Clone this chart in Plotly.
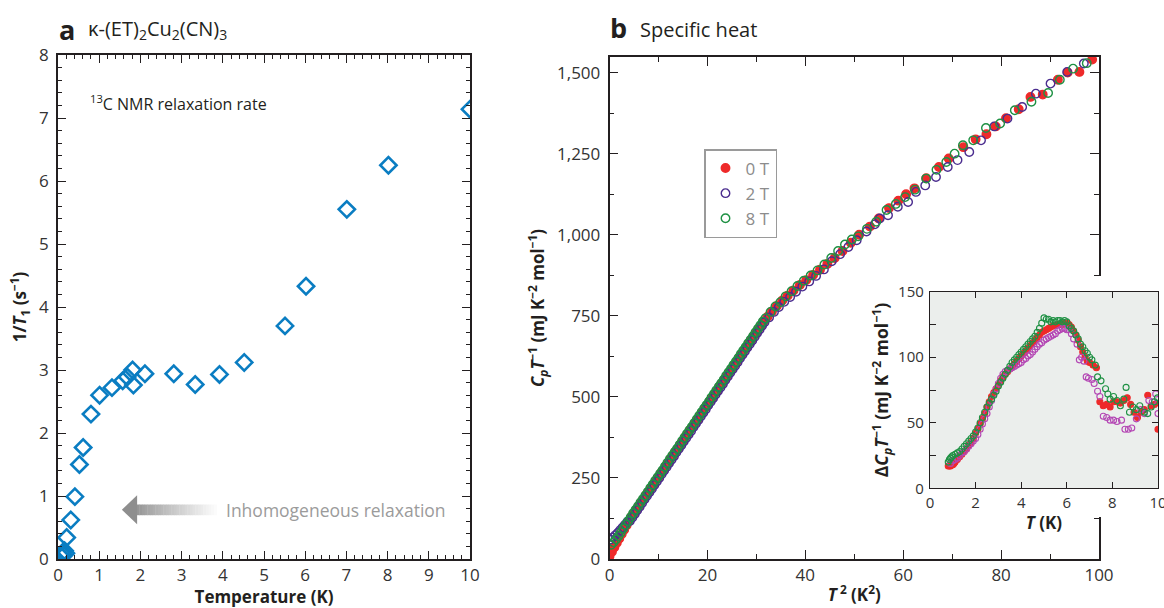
import plotly.graph_objects as go

# ---------------- Panel a: 13C NMR relaxation rate ----------------
nmr_T = [0.08, 0.11, 0.13, 0.16, 0.19, 0.21, 0.31, 0.41, 0.52, 0.61, 0.80, 1.01, 1.31,
         1.57, 1.68, 1.81, 1.83, 2.11, 2.81, 3.33, 3.92, 4.52, 5.51, 6.02, 7.01, 8.02, 10.0]
nmr_rate = [0.04, 0.10, 0.06, 0.13, 0.09, 0.34, 0.62, 0.99, 1.50, 1.77, 2.30, 2.60, 2.72,
            2.83, 2.89, 3.00, 2.76, 2.94, 2.94, 2.77, 2.93, 3.12, 3.70, 4.33, 5.55, 6.25, 7.14]

# ---------------- Panel b: specific heat C_p/T vs T^2 ----------------
t2_0T = [0.0, 0.5, 1.0, 1.5, 2.0, 2.5, 3.0, 3.5, 4.0, 4.5, 5.0, 5.5, 6.0, 6.5, 7.0, 7.5,
         8.0, 8.5, 9.0, 9.5, 10.0, 10.5, 11.0, 11.5, 12.0, 12.5, 13.0, 13.5, 14.0, 14.5, 15.0, 15.5,
         16.0, 16.5, 17.0, 17.5, 18.0, 18.5, 19.0, 19.5, 20.0, 20.5, 21.0, 21.5, 22.0, 22.5, 23.0, 23.5,
         24.0, 24.5, 25.0, 25.5, 26.0, 26.5, 27.0, 27.5, 28.0, 28.5, 29.0, 29.5, 30.0, 30.5, 31.0, 31.5,
         32.3, 33.2, 34.2, 35.3, 36.4, 37.6, 38.9, 40.2, 41.6, 43.0, 44.5, 46.0, 47.6, 49.3, 51.0,
         53.2, 55.0, 57.1, 59.0, 60.6, 62.3, 64.7, 67.3, 69.3, 72.3, 74.8, 77.0, 78.9, 81.0,
         83.6, 86.0, 88.5, 91.6, 93.6, 96.0, 98.6]
cpt_0T = [8, 22, 36, 50, 63, 77, 90, 104, 118, 131, 140, 153, 163, 176, 185, 198,
          207, 220, 230, 243, 252, 265, 274, 287, 296, 310, 319, 332, 341, 354, 363, 377,
          386, 399, 408, 421, 430, 443, 453, 466, 475, 488, 497, 510, 519, 533, 542, 555,
          564, 577, 586, 599, 609, 622, 631, 644, 653, 666, 676, 689, 698, 711, 720, 733,
          747, 763, 780, 797, 812, 828, 845, 860, 876, 892, 910, 928, 950, 975, 1000,
          1025, 1050, 1082, 1105, 1125, 1143, 1174, 1209, 1235, 1270, 1294, 1310, 1334, 1359,
          1387, 1425, 1432, 1478, 1500, 1502, 1540]

t2_2T = [0.17, 0.67, 1.17, 1.67, 2.17, 2.67, 3.17, 3.67, 4.17, 4.67, 5.17, 5.67, 6.17, 6.67, 7.17, 7.67,
         8.17, 8.67, 9.17, 9.67, 10.17, 10.67, 11.17, 11.67, 12.17, 12.67, 13.17, 13.67, 14.17, 14.67, 15.17, 15.67,
         16.17, 16.67, 17.17, 17.67, 18.17, 18.67, 19.17, 19.67, 20.17, 20.67, 21.17, 21.67, 22.17, 22.67, 23.17, 23.67,
         24.17, 24.67, 25.17, 25.67, 26.17, 26.67, 27.17, 27.67, 28.17, 28.67, 29.17, 29.67, 30.17, 30.67, 31.17, 31.67,
         32.6, 33.6, 34.6, 35.7, 36.9, 38.1, 39.4, 40.8, 42.2, 43.8, 45.4, 47.1, 48.8, 50.5,
         52.5, 54.2, 55.2, 56.9, 58.9, 61.0, 62.6, 64.5, 66.7, 69.1, 71.1, 73.5, 75.9, 78.6,
         81.3, 84.3, 87.1, 90.1, 93.5, 96.9]
cpt_2T = [60, 66, 73, 80, 89, 97, 106, 115, 117, 128, 139, 150, 161, 173, 184, 195,
          206, 217, 228, 239, 250, 262, 273, 284, 295, 306, 317, 329, 340, 351, 362, 373,
          384, 395, 407, 418, 429, 440, 451, 462, 474, 485, 496, 507, 518, 529, 540, 552,
          563, 574, 585, 596, 607, 619, 630, 641, 652, 663, 674, 685, 697, 708, 719, 730,
          745, 762, 777, 793, 808, 824, 840, 856, 873, 893, 918, 940, 962, 983,
          1010, 1032, 1050, 1060, 1086, 1101, 1132, 1152, 1178, 1209, 1230, 1255, 1291, 1334,
          1358, 1394, 1435, 1466, 1502, 1528]

t2_8T = [0.33, 0.83, 1.33, 1.83, 2.33, 2.83, 3.33, 3.83, 4.33, 4.83, 5.33, 5.83, 6.33, 6.83, 7.33, 7.83,
         8.33, 8.83, 9.33, 9.83, 10.33, 10.83, 11.33, 11.83, 12.33, 12.83, 13.33, 13.83, 14.33, 14.83, 15.33, 15.83,
         16.33, 16.83, 17.33, 17.83, 18.33, 18.83, 19.33, 19.83, 20.33, 20.83, 21.33, 21.83, 22.33, 22.83, 23.33, 23.83,
         24.33, 24.83, 25.33, 25.83, 26.33, 26.83, 27.33, 27.83, 28.33, 28.83, 29.33, 29.83, 30.33, 30.83, 31.33, 31.83,
         32.9, 33.9, 34.9, 36.0, 37.2, 38.4, 39.7, 41.1, 42.5, 43.9, 45.3, 46.7, 48.1, 49.5,
         50.8, 52.6, 54.5, 56.6, 58.5, 60.4, 62.4, 64.7, 66.8, 68.8, 70.5, 72.2, 74.3, 76.9,
         79.8, 82.8, 86.2, 89.6, 92.0, 94.7, 97.5]
cpt_8T = [44, 52, 61, 71, 82, 94, 106, 117, 129, 141, 152, 163, 174, 185, 196, 207,
          219, 230, 241, 252, 263, 274, 285, 297, 308, 319, 330, 341, 352, 364, 375, 386,
          397, 408, 419, 431, 442, 453, 464, 475, 486, 498, 509, 520, 531, 542, 553, 565,
          576, 587, 598, 609, 620, 632, 643, 654, 665, 676, 687, 699, 710, 721, 732, 742,
          762, 779, 792, 810, 826, 842, 858, 874, 890, 908, 928, 950, 970, 985,
          995, 1018, 1040, 1076, 1095, 1116, 1139, 1173, 1200, 1224, 1250, 1276, 1291, 1329,
          1343, 1384, 1410, 1437, 1478, 1512, 1529]

# ---------------- Inset: Delta C_p/T vs T ----------------
ins_T_0T = [0.80, 0.85, 0.90, 0.95, 1.00, 1.05,
            1.1, 1.2, 1.3, 1.4, 1.5, 1.6, 1.7, 1.8, 1.9, 2.0,
            2.1, 2.2, 2.3, 2.4, 2.5, 2.6, 2.7, 2.8, 2.9, 3.0,
            3.1, 3.2, 3.3, 3.4, 3.5, 3.6, 3.7, 3.8, 3.9, 4.0,
            4.1, 4.2, 4.3, 4.4, 4.5, 4.6, 4.7, 4.8, 4.9, 5.0,
            5.1, 5.2, 5.3, 5.4, 5.5, 5.6, 5.7, 5.8, 5.9, 6.0,
            6.1, 6.2, 6.3, 6.4, 6.5, 6.6, 6.7, 6.8, 6.9,
            7.00, 7.15, 7.30, 7.45, 7.60, 7.75, 7.90, 8.05, 8.20, 8.35, 8.50,
            8.65, 8.80, 8.95, 9.10, 9.25, 9.40, 9.55, 9.70, 9.85, 10.0]
ins_V_0T = [17, 17, 17, 18, 18, 19,
            20, 22, 24, 26, 28, 30, 33, 35, 38, 42,
            45, 49, 53, 57, 62, 66, 70, 73, 76, 79,
            82, 85, 87, 89, 91, 93, 95, 97, 99, 101,
            103, 105, 107, 109, 111, 113, 115, 117, 119, 120,
            121, 122, 123, 124, 124, 125, 125, 125, 126, 126,
            125, 123, 120, 117, 113, 108, 104, 100, 97,
            96, 94, 92, 66, 63, 64, 62, 66, 66, 65, 67,
            69, 64, 58, 54, 58, 60, 71, 63, 64, 45]

ins_T_2T = [0.90, 1.00,
            1.1, 1.2, 1.3, 1.4, 1.5, 1.6, 1.7, 1.8, 1.9, 2.0,
            2.1, 2.2, 2.3, 2.4, 2.5, 2.6, 2.7, 2.8, 2.9, 3.0,
            3.1, 3.2, 3.3, 3.4, 3.5, 3.6, 3.7, 3.8, 3.9, 4.0,
            4.1, 4.2, 4.3, 4.4, 4.5, 4.6, 4.7, 4.8, 4.9, 5.0,
            5.1, 5.2, 5.3, 5.4, 5.5, 5.6, 5.7, 5.8, 5.9, 6.0, 6.1,
            6.20, 6.30, 6.45, 6.55, 6.65, 6.75, 6.85, 6.95, 7.10, 7.20,
            7.35, 7.45, 7.60, 7.75, 7.90, 8.05, 8.20, 8.40, 8.55, 8.70,
            8.85, 9.05, 9.25, 9.40, 9.60, 9.75, 9.90, 10.0]
ins_V_2T = [19, 21,
            22, 23, 25, 27, 28, 30, 32, 34, 36, 38,
            41, 45, 49, 53, 57, 62, 67, 72, 76, 80,
            84, 87, 89, 90, 91, 92, 93, 94, 95, 96,
            98, 99, 101, 102, 104, 106, 108, 110, 111, 113,
            114, 115, 116, 117, 118, 120, 121, 122, 122, 121, 121,
            118, 114, 110, 98, 100, 97, 85, 84, 83, 80,
            74, 70, 55, 54, 52, 52, 51, 52, 45, 45,
            46, 53, 60, 57, 67, 66, 72, 57]

ins_T_8T = [0.80, 0.85, 0.90, 0.95, 1.00,
            1.1, 1.2, 1.3, 1.4, 1.5, 1.6, 1.7, 1.8, 1.9, 2.0,
            2.1, 2.2, 2.3, 2.4, 2.5, 2.6, 2.7, 2.8, 2.9, 3.0,
            3.1, 3.2, 3.3, 3.4, 3.5, 3.6, 3.7, 3.8, 3.9, 4.0,
            4.1, 4.2, 4.3, 4.4, 4.5, 4.6, 4.7, 4.8, 4.9, 5.0,
            5.1, 5.2, 5.3, 5.4, 5.5, 5.6, 5.7, 5.8, 5.9, 6.0,
            6.1, 6.2, 6.3, 6.4, 6.5, 6.6, 6.7, 6.8, 6.9,
            7.00, 7.10, 7.25, 7.35, 7.50, 7.70, 7.80, 7.90, 8.05, 8.20,
            8.35, 8.50, 8.60, 8.75, 8.90, 9.05, 9.20, 9.40, 9.55, 9.70, 9.85, 9.98]
ins_V_8T = [20, 22, 23, 24, 25,
            26, 27, 28, 30, 32, 34, 36, 38, 40, 43,
            46, 50, 54, 58, 62, 65, 68, 71, 74, 78,
            81, 84, 87, 90, 93, 96, 98, 100, 102, 104,
            106, 108, 110, 112, 114, 116, 119, 122, 126, 130,
            129, 129, 127, 128, 127, 128, 128, 127, 128, 127,
            124, 122, 120, 117, 114, 110, 108, 105, 103,
            100, 98, 94, 85, 82, 76, 72, 68, 70, 67,
            63, 68, 77, 58, 62, 60, 63, 58, 57, 62, 66, 69]

# ---------------- styling ----------------
FONT = "Open Sans"
INK = "#231f20"
TICKC = "#333333"
BLUE = "#0a7dc2"
RED = "#ee2a2a"
PURPLE = "#4b2d8f"
GREEN = "#1f9144"
MAGENTA = "#b447b4"
INSET_BG = "#ebeeec"

W, H = 1164, 608


def px_x(p):
    return p / W


def px_y(p):
    return 1 - p / H


fig = go.Figure()

fig.add_trace(go.Scatter(
    x=nmr_T, y=nmr_rate, mode="markers", xaxis="x", yaxis="y", showlegend=False,
    marker=dict(symbol="diamond-open", size=12.5, color=BLUE, line=dict(width=2.6, color=BLUE)),
))

for name, xs, ys, sym, col in [
    ("0 T", t2_0T, cpt_0T, "circle", RED),
    ("2 T", t2_2T, cpt_2T, "circle-open", PURPLE),
    ("8 T", t2_8T, cpt_8T, "circle-open", GREEN),
]:
    fig.add_trace(go.Scatter(
        x=xs, y=ys, mode="markers", name=name, xaxis="x2", yaxis="y2",
        marker=dict(symbol=sym, size=8.5, color=col, line=dict(width=1.4, color=col)),
    ))

# white mask subplot (hides main frame under the inset region)
fig.add_trace(go.Scatter(x=[], y=[], xaxis="x3", yaxis="y3", showlegend=False, hoverinfo="skip"))

for xs, ys, sym, col in [
    (ins_T_0T, ins_V_0T, "circle", RED),
    (ins_T_2T, ins_V_2T, "circle-open", MAGENTA),
    (ins_T_8T, ins_V_8T, "circle-open", GREEN),
]:
    fig.add_trace(go.Scatter(
        x=xs, y=ys, mode="markers", xaxis="x4", yaxis="y4", showlegend=False,
        marker=dict(symbol=sym, size=6, color=col, line=dict(width=1.1, color=col)),
    ))


def ax(**kw):
    base = dict(showline=True, linecolor=INK, linewidth=1.6, mirror="ticks", ticks="inside",
                tickcolor=INK, tickwidth=1.4, showgrid=False, zeroline=False, automargin=False,
                ticklabeloverflow="allow",
                tickfont=dict(family=FONT, size=17, color=TICKC))
    base.update(kw)
    return base


fig.update_layout(
    width=W, height=H, margin=dict(l=0, r=0, t=0, b=0, pad=0), autosize=False,
    paper_bgcolor="white", plot_bgcolor="white",
    font=dict(family=FONT, color=INK),
    hovermode=False,
    xaxis=ax(domain=[px_x(58), px_x(470)], range=[0, 10], anchor="y", tick0=0, dtick=1, ticklen=8,
             minor=dict(dtick=0.2, tick0=0, ticks="inside", ticklen=4, tickwidth=1.2, tickcolor=INK),
             title=dict(text="<b>Temperature (K)</b>", font=dict(size=17, family=FONT, color=INK), standoff=4)),
    yaxis=ax(domain=[px_y(559), px_y(55)], range=[0, 8], anchor="x", tick0=0, dtick=1, ticklen=8,
             ticklabelstandoff=4,
             minor=dict(dtick=0.2, tick0=0, ticks="inside", ticklen=4, tickwidth=1.2, tickcolor=INK),
             title=dict(text="<b>1/<i>T</i><sub>1</sub> (s<sup>−1</sup>)</b>", font=dict(size=17, family=FONT, color=INK), standoff=8)),
    xaxis2=ax(domain=[px_x(609.5), px_x(1099)], range=[0, 100], anchor="y2", tick0=0, dtick=20, ticklen=9,
              minor=dict(dtick=10, tick0=0, ticks="inside", ticklen=5, tickwidth=1.2, tickcolor=INK),
              title=dict(text="<b><i>T</i><sup> 2</sup> (K<sup>2</sup>)</b>", font=dict(size=17, family=FONT, color=INK), standoff=4)),
    yaxis2=ax(domain=[px_y(559), px_y(57)], range=[0, 1548], anchor="x2", tick0=0, dtick=250, ticklen=9,
              tickformat=",d", ticklabelstandoff=4,
              minor=dict(dtick=125, tick0=0, ticks="inside", ticklen=5, tickwidth=1.2, tickcolor=INK),
              title=dict(text="<b><i>C</i><sub><i>p</i></sub><i>T</i><sup>−1</sup> (mJ K<sup>−2</sup> mol<sup>−1</sup>)</b>",
                         font=dict(size=17, family=FONT, color=INK), standoff=8)),
    xaxis3=dict(domain=[px_x(860), 1.0], range=[0, 1], anchor="y3", visible=False),
    yaxis3=dict(domain=[px_y(517), px_y(276)], range=[0, 1], anchor="x3", visible=False),
    xaxis4=ax(domain=[px_x(930), px_x(1158)], range=[0, 10], anchor="y4", tick0=0, dtick=2, ticklen=6,
              tickfont=dict(family=FONT, size=15, color=TICKC), linewidth=1.4,
              title=dict(text="<b><i>T</i> (K)</b>", font=dict(size=17, family=FONT, color=INK), standoff=1)),
    yaxis4=ax(domain=[px_y(488.3), px_y(291.7)], range=[0, 150], anchor="x4", tick0=0, dtick=50, ticklen=6,
              tickfont=dict(family=FONT, size=15, color=TICKC), linewidth=1.4, ticklabelstandoff=2,
              minor=dict(dtick=25, tick0=0, ticks="inside", ticklen=6, tickwidth=1.2, tickcolor=INK),
              title=dict(text="<b>Δ<i>C</i><sub><i>p</i></sub><i>T</i><sup>−1</sup> (mJ K<sup>−2</sup> mol<sup>−1</sup>)</b>",
                         font=dict(size=17.5, family=FONT, color=INK), standoff=4)),
    legend=dict(x=px_x(704), y=px_y(149), xanchor="left", yanchor="top", bgcolor="white",
                bordercolor="#9a9a9a", borderwidth=1.5, font=dict(family=FONT, size=17, color="#8c8c8c"),
                tracegroupgap=0),
)

shapes = []
# inset grey background (drawn inside the inset subplot group)
shapes.append(dict(type="rect", xref="x4", yref="y4", x0=0, x1=10, y0=0, y1=150,
                   fillcolor=INSET_BG, line=dict(width=0), layer="below"))

# gradient arrow in panel a
ARROW_Y = 0.78
ARROW_TIP = 1.55
ARROW_BASE = 1.92
ARROW_TAIL = 3.86
HEAD_HALF = 0.23
SHAFT_HALF = 0.085
N_SEG = 30
for i in range(N_SEG):
    f0 = i / N_SEG
    f1 = (i + 1) / N_SEG
    g = int(150 + (255 - 150) * (f0 ** 0.9))
    shapes.append(dict(type="rect", xref="x", yref="y",
                       x0=ARROW_BASE - 0.01 + (ARROW_TAIL - ARROW_BASE) * f0,
                       x1=ARROW_BASE + (ARROW_TAIL - ARROW_BASE) * f1,
                       y0=ARROW_Y - SHAFT_HALF, y1=ARROW_Y + SHAFT_HALF,
                       fillcolor=f"rgb({g},{g},{g})", line=dict(width=0), layer="above"))
shapes.append(dict(type="path", xref="x", yref="y",
                   path=f"M {ARROW_TIP},{ARROW_Y} L {ARROW_BASE},{ARROW_Y + HEAD_HALF} "
                        f"L {ARROW_BASE},{ARROW_Y - HEAD_HALF} Z",
                   fillcolor="#8e8e8e", line=dict(width=0), layer="above"))
fig.update_layout(shapes=shapes)

annotations = [
    dict(xref="paper", yref="paper", x=px_x(57), y=px_y(30), xanchor="left", yanchor="middle",
         text="<b>a</b>", showarrow=False, font=dict(family=FONT, size=27, color=INK)),
    dict(xref="paper", yref="paper", x=px_x(86), y=px_y(30), xanchor="left", yanchor="middle",
         text="κ-(ET)<sub>2</sub>Cu<sub>2</sub>(CN)<sub>3</sub>", showarrow=False,
         font=dict(family=FONT, size=20, color=INK)),
    dict(xref="paper", yref="paper", x=px_x(608), y=px_y(28), xanchor="left", yanchor="middle",
         text="<b>b</b>", showarrow=False, font=dict(family=FONT, size=27, color=INK)),
    dict(xref="paper", yref="paper", x=px_x(638), y=px_y(29), xanchor="left", yanchor="middle",
         text="Specific heat", showarrow=False, font=dict(family=FONT, size=20, color=INK)),
    dict(xref="x", yref="y", x=0.72, y=7.24, xanchor="left", yanchor="middle",
         text="<sup>13</sup>C NMR relaxation rate", showarrow=False,
         font=dict(family=FONT, size=16, color=INK)),
    dict(xref="x", yref="y", x=4.02, y=ARROW_Y, xanchor="left", yanchor="middle",
         text="Inhomogeneous relaxation", showarrow=False,
         font=dict(family=FONT, size=17.5, color="#9b9b9b")),
]
fig.update_layout(annotations=annotations)

fig.write_html("out.html")
